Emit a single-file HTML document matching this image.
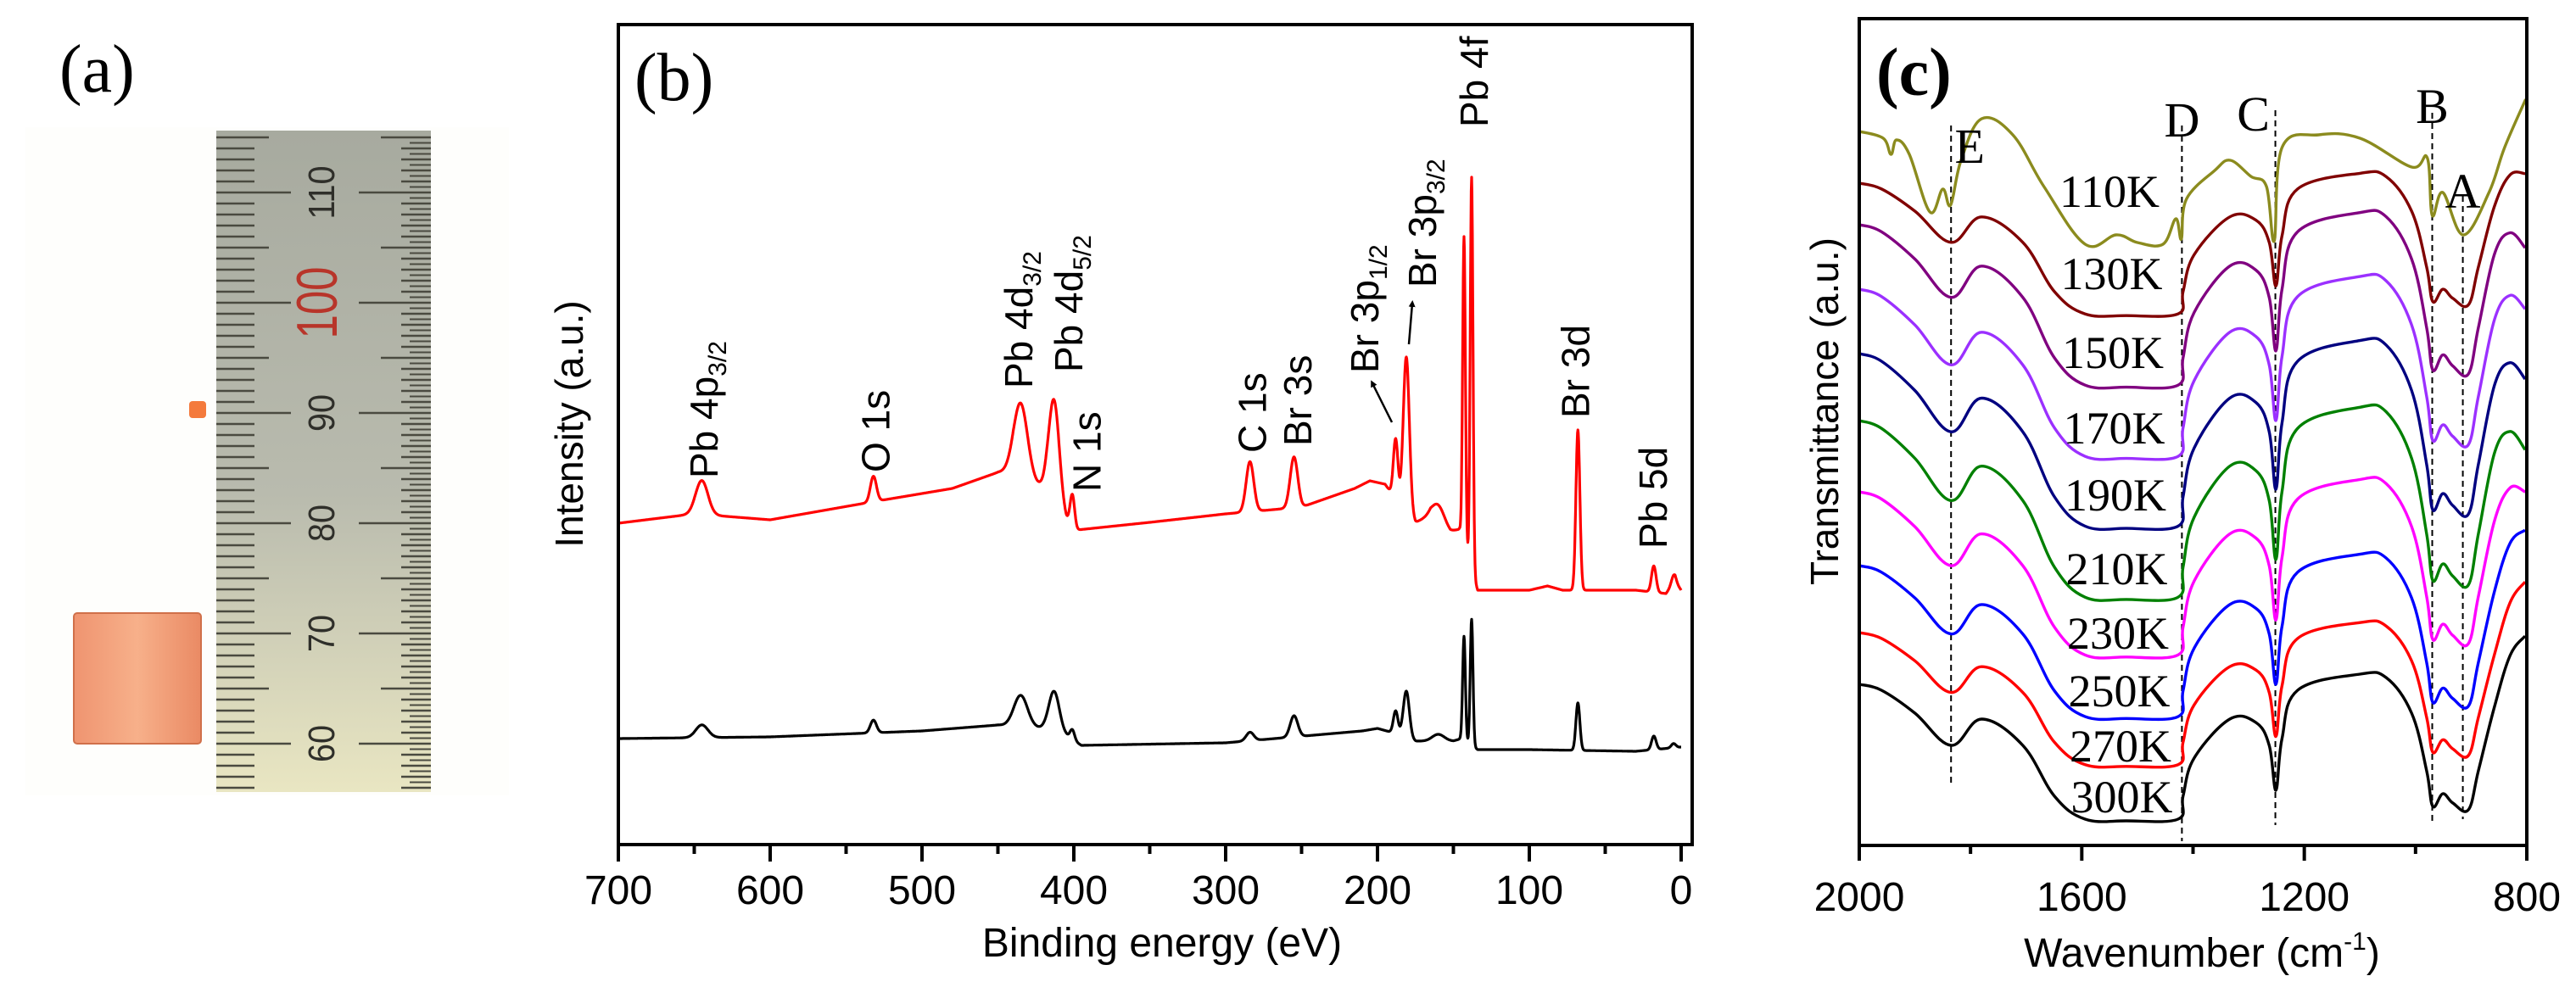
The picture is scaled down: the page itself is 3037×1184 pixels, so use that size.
<!DOCTYPE html>
<html><head><meta charset="utf-8"><style>
html,body{margin:0;padding:0;background:#fff;}
svg{display:block;}
</style></head><body>
<svg id="fig" xmlns="http://www.w3.org/2000/svg" width="3037" height="1184" viewBox="0 0 3037 1184">
<defs>
<linearGradient id="rulerGrad" x1="0" y1="0" x2="0" y2="1">
<stop offset="0" stop-color="#a7aa9f"/><stop offset="0.55" stop-color="#b9bbae"/><stop offset="1" stop-color="#e9e6c2"/>
</linearGradient>
<linearGradient id="cuGrad" x1="0" y1="0" x2="1" y2="0">
<stop offset="0" stop-color="#ef9470"/><stop offset="0.5" stop-color="#f7b08a"/><stop offset="1" stop-color="#ea8a64"/>
</linearGradient>
<marker id="arrowHead" markerWidth="8" markerHeight="8" refX="4" refY="4" orient="auto" markerUnits="userSpaceOnUse" viewBox="0 0 8 8">
<path d="M0,0 L8,4 L0,8 z" fill="#000"/>
</marker>
</defs>

<!-- Panel (a) -->
<g id="panelA">
<rect x="30" y="150" width="570" height="788" fill="#fefefc"/>
<text x="70" y="108" font-family="Liberation Serif, serif" font-size="80">(a)</text>
<rect x="255" y="154" width="253" height="780" fill="url(#rulerGrad)"/>
<g id="rulerTicks"></g>
<g id="rulerNums"></g>
<rect x="223" y="473" width="20" height="20" rx="4" fill="#f47a3c"/>
<rect x="87" y="723" width="150" height="154" rx="4" fill="url(#cuGrad)" stroke="#d0704a" stroke-width="2"/>
</g>

<!-- Panel (b) -->
<g id="panelB">
<text x="748" y="118" font-family="Liberation Serif, serif" font-size="80">(b)</text>
<g id="bSeries"></g>
<g id="bLabels" font-family="Liberation Sans, sans-serif" font-size="46"></g>
<line x1="1641" y1="498" x2="1618" y2="452" stroke="#000" stroke-width="2.5" marker-end="url(#arrowHead)"/>
<line x1="1661" y1="406" x2="1665" y2="358" stroke="#000" stroke-width="2.5" marker-end="url(#arrowHead)"/>
<rect x="729" y="29" width="1266" height="967" fill="none" stroke="#000" stroke-width="4"/>
<g id="bAxis" font-family="Liberation Sans, sans-serif" font-size="48" text-anchor="middle"></g>
<text x="1370" y="1128" font-family="Liberation Sans, sans-serif" font-size="48" text-anchor="middle">Binding energy (eV)</text>
<text transform="translate(687,500) rotate(-90)" font-family="Liberation Sans, sans-serif" font-size="46" text-anchor="middle">Intensity (a.u.)</text>
</g>

<!-- Panel (c) -->
<g id="panelC">
<text x="2212" y="112" font-family="Liberation Serif, serif" font-size="80" font-weight="bold">(c)</text>
<g id="cDashes" stroke="#000" stroke-width="2" stroke-dasharray="7,5"></g>
<g id="cSeries"></g>
<g id="cTemps" font-family="Liberation Serif, serif" font-size="54"></g>
<g id="cLetters" font-family="Liberation Serif, serif" font-size="58" text-anchor="middle"></g>
<rect x="2192" y="22" width="787" height="975" fill="none" stroke="#000" stroke-width="4"/>
<g id="cAxis" font-family="Liberation Sans, sans-serif" font-size="48" text-anchor="middle"></g>
<text x="2596" y="1140" font-family="Liberation Sans, sans-serif" font-size="48" text-anchor="middle">Wavenumber (cm<tspan font-size="30" dy="-20">-1</tspan><tspan dy="20">)</tspan></text>
<text transform="translate(2167,485) rotate(-90)" font-family="Liberation Sans, sans-serif" font-size="46" text-anchor="middle">Transmittance (a.u.)</text>
</g>
</svg>

<script>
// ===== Panel (b) data =====
const bTicks = [700, 600, 500, 400, 300, 200, 100, 0];
const bMinorTicks = [650, 550, 450, 350, 250, 150, 50];
const peakCenters = [645, 532, 435, 413, 401, 284, 255, 188, 181, 160, 143, 138, 68, 18, 5];
const peakWidths = [4, 2, 4.5, 3.5, 1.5, 2.5, 2.5, 1.5, 2, 4, 0.9, 0.9, 1.3, 1.5, 1.5];
const redHeights = [40, 30, 85, 120, 38, 59, 60, 71, 183, 20, 363, 463, 189, 31, 10];
const blackHeights = [15, 15, 37, 48, 12, 10, 25, 27, 55, 8, 123, 149, 56, 16, 5];
const redBaseE = [700, 650, 600, 530, 480, 450, 440, 425, 418, 405, 398, 350, 300, 250, 215, 205, 195, 185, 175, 165, 152, 146, 134, 100, 88, 78, 30, 10, 4, 0];
const redBaseV = [379, 390, 383, 405, 420, 439, 441, 425, 420, 380, 371, 380, 390, 398, 420, 429, 425, 400, 380, 388, 369, 372, 300, 300, 305, 300, 300, 296, 310, 300];
const blackBaseE = [700, 600, 500, 450, 420, 405, 395, 300, 210, 200, 190, 175, 150, 145, 134, 100, 30, 0];
const blackBaseV = [125, 127, 134, 141, 137, 128, 117, 120, 134, 137, 132, 122, 122, 125, 112, 112, 110, 115];
const bPeakLabels = ["Pb 4p|3/2", "O 1s", "Pb 4d|3/2", "Pb 4d|5/2", "N 1s", "C 1s", "Br 3s", "Br 3p|1/2", "Br 3p|3/2", "Pb 4f", "Br 3d", "Pb 5d"];
const bLabelEnergy = [644, 531, 437, 404, 392, 283, 253, 209, 171, 137, 70, 19];
const bLabelHeight = [432, 439, 538, 557, 416, 462, 470, 556, 657, 846, 503, 349];

// ===== Panel (c) data =====
const wn = [2000, 1960, 1900, 1835, 1780, 1706, 1649, 1594, 1520, 1427, 1418, 1398, 1334, 1287, 1263, 1251, 1240, 1212, 1100, 1053, 1007, 980, 969, 951, 933, 905, 887, 858, 830, 803];
const t300 = [190, 183, 156, 118, 149, 118, 58, 31, 29, 31, 58, 103, 149, 145, 118, 65, 126, 183, 202, 198, 156, 88, 46, 61, 50, 42, 88, 164, 224, 247];
const wn110 = [2000, 1957, 1943, 1933, 1910, 1873, 1850, 1836, 1817, 1780, 1724, 1668, 1594, 1538, 1500, 1454, 1431, 1421, 1412, 1361, 1333, 1296, 1268, 1254, 1240, 1174, 1100, 1007, 979, 970, 951, 914, 868, 840, 802];
const t110 = [842, 834, 815, 832, 815, 747, 774, 755, 808, 857, 838, 777, 709, 720, 711, 709, 739, 715, 762, 796, 808, 789, 777, 713, 823, 838, 834, 800, 811, 743, 770, 720, 770, 823, 880];
const temps = ["130K", "150K", "170K", "190K", "210K", "230K", "250K", "270K"];
const offsets = [781, 732, 656, 580, 501, 417, 330, 251];
const depths = [0.97, 1.19, 1.24, 1.28, 1.31, 1.21, 1.12, 0.98];
const tilts = [-44, -95, -94, -103, -109, -69, -22, 4];
const cTicks = [2000, 1600, 1200, 800];
const cMinorTicks = [1800, 1400, 1000];
const tempLabelsAll = ["110K", "130K", "150K", "170K", "190K", "210K", "230K", "250K", "270K", "300K"];
const tempLabelV = [772, 675, 582, 493, 414, 327, 251, 183, 118, 58];
const bandLetters = ["E", "D", "C", "B", "A"];
const bandWn = [1835, 1420, 1252, 970, 915];
const bandLetterV = [825, 856, 863, 872, 772];
const bandLineTopV = [849, 849, 867, 864, 766];
const bandLineBotV = [69, 5, 24, 24, 31];

const NS = "http://www.w3.org/2000/svg";
function mk(tag, parent) { const e = document.createElementNS(NS, tag); parent.appendChild(e); return e; }

// ---- Panel (a) ruler decoration ----
(function () {
  const g = document.getElementById('rulerTicks');
  for (let m = 56; m <= 116; m++) {
    const y = 877 - (m - 60) * 13;
    if (y < 156 || y > 932) continue;
    const lenL = m % 10 === 0 ? 88 : (m % 5 === 0 ? 62 : 45);
    const l = mk('line', g);
    
    
    l.setAttribute('x1', 255); l.setAttribute('x2', 255 + lenL);
    l.setAttribute('y1', y); l.setAttribute('y2', y);
    l.setAttribute('stroke', '#4a4a40'); l.setAttribute('stroke-width', '2.5');
    const lenR = m % 10 === 0 ? 85 : (m % 5 === 0 ? 59 : 35);
    const r = mk('line', g);
    
    
    r.setAttribute('x1', 508 - lenR); r.setAttribute('x2', 508);
    r.setAttribute('y1', y); r.setAttribute('y2', y);
    r.setAttribute('stroke', '#4a4a40'); r.setAttribute('stroke-width', '2.5');
    const yh = y - 6.5;
    if (yh > 156) {
      const h = mk('line', g);
      
      
      h.setAttribute('x1', 483); h.setAttribute('x2', 508);
      h.setAttribute('y1', yh); h.setAttribute('y2', yh);
      h.setAttribute('stroke', '#4a4a40'); h.setAttribute('stroke-width', '2');
    }
  }
  const ng = document.getElementById('rulerNums');
  [60, 70, 80, 90, 100, 110].forEach(n => {
    const y = 877 - (n - 60) * 13;
    const t = mk('text', ng);
    
    
    const red = n === 100;
    t.setAttribute('transform', `translate(${red ? 397 : 394},${y}) rotate(-90) scale(${red ? 0.75 : 0.9},1)`);
    t.setAttribute('text-anchor', 'middle');
    t.setAttribute('font-family', 'Liberation Sans, sans-serif');
    t.setAttribute('font-size', red ? 68 : 44);
    t.setAttribute('fill', red ? '#b8352a' : '#2f2f2a');
    t.textContent = String(n);
  });
})();

// ---- Panel (b) ----
const bLeft = 729, bTop = 29, bBottom = 996;
function xB(e) { return bLeft + (700 - e) * 1.79; }
function yB(v) { return bBottom - v; }
function interp(xs, ys, x) {
  for (let i = 0; i < xs.length - 1; i++) {
    const a = xs[i], b = xs[i + 1];
    if ((x <= a && x >= b) || (x >= a && x <= b)) {
      const t = (x - a) / (b - a); return ys[i] + t * (ys[i + 1] - ys[i]);
    }
  }
  return ys[ys.length - 1];
}
function spectrum(baseE, baseV, heights, e) {
  let v = interp(baseE, baseV, e);
  for (let i = 0; i < peakCenters.length; i++) {
    const d = (e - peakCenters[i]) / peakWidths[i];
    v += heights[i] * Math.exp(-0.5 * d * d);
  }
  return v;
}
(function () {
  const g = document.getElementById('bSeries');
  [["black", blackBaseE, blackBaseV, blackHeights, "#000", "xps-black-spectrum"],
   ["red", redBaseE, redBaseV, redHeights, "#ff0000", "xps-red-spectrum"]].forEach(s => {
    let d = "";
    for (let e = 700; e >= 0; e -= 0.25) {
      const v = spectrum(s[1], s[2], s[3], e);
      d += (d ? "L" : "M") + xB(e).toFixed(1) + "," + yB(v).toFixed(1);
    }
    const p = mk('path', g);
    
    
    p.setAttribute('d', d);
    p.setAttribute('fill', 'none');
    p.setAttribute('stroke', s[4]);
    p.setAttribute('stroke-width', '3.2');
    p.setAttribute('stroke-linejoin', 'round');
  });
  const lg = document.getElementById('bLabels');
  bPeakLabels.forEach((lab, i) => {
    const parts = lab.split('|');
    const t = mk('text', lg);
    
    
    t.setAttribute('transform', `translate(${(xB(bLabelEnergy[i]) + 17).toFixed(1)},${yB(bLabelHeight[i]).toFixed(1)}) rotate(-90)`);
    t.appendChild(document.createTextNode(parts[0]));
    if (parts[1]) {
      const s = document.createElementNS(NS, 'tspan');
      s.setAttribute('font-size', '30');
      s.setAttribute('dy', '10');
      s.textContent = parts[1];
      t.appendChild(s);
    }
  });
  const ag = document.getElementById('bAxis');
  bTicks.forEach(v => {
    const l = mk('line', ag);
    
    
    l.setAttribute('x1', xB(v)); l.setAttribute('x2', xB(v));
    l.setAttribute('y1', bBottom); l.setAttribute('y2', bBottom + 20);
    l.setAttribute('stroke', '#000'); l.setAttribute('stroke-width', '4');
    const t = mk('text', ag);
    
    
    t.setAttribute('x', xB(v)); t.setAttribute('y', 1066);
    t.textContent = String(v);
  });
  bMinorTicks.forEach(v => {
    const l = mk('line', ag);
    
    
    l.setAttribute('x1', xB(v)); l.setAttribute('x2', xB(v));
    l.setAttribute('y1', bBottom); l.setAttribute('y2', bBottom + 11);
    l.setAttribute('stroke', '#000'); l.setAttribute('stroke-width', '4');
  });
})();

// ---- Panel (c) ----
const cLeft = 2192, cBottom = 997;
function xC(w) { return cLeft + (2000 - w) * (787 / 1200); }
function yC(v) { return cBottom - v; }
function ramp(w) { return w >= 860 ? 0 : Math.min(1, (860 - w) / 57); }
const cColors = ["#800000", "#800080", "#9b30ff", "#000080", "#008000", "#ff00ff", "#0000ff", "#ff0000"];
function smoothPath(pts) {
  let d = "M" + pts[0][0].toFixed(1) + "," + pts[0][1].toFixed(1);
  for (let i = 0; i < pts.length - 1; i++) {
    const p0 = pts[Math.max(0, i - 1)], p1 = pts[i], p2 = pts[i + 1], p3 = pts[Math.min(pts.length - 1, i + 2)];
    const k = 0.18;
    const c1x = p1[0] + (p2[0] - p0[0]) * k, c1y = p1[1] + (p2[1] - p0[1]) * k;
    const c2x = p2[0] - (p3[0] - p1[0]) * k, c2y = p2[1] - (p3[1] - p1[1]) * k;
    d += "C" + c1x.toFixed(1) + "," + c1y.toFixed(1) + " " + c2x.toFixed(1) + "," + c2y.toFixed(1) + " " + p2[0].toFixed(1) + "," + p2[1].toFixed(1);
  }
  return d;
}
(function () {
  const g = document.getElementById('cSeries');
  function draw(xs, vs, color, name) {
    const pts = xs.map((w, i) => [xC(w), yC(vs[i])]);
    const p = mk('path', g);
    
    
    p.setAttribute('d', smoothPath(pts));
    p.setAttribute('fill', 'none');
    p.setAttribute('stroke', color);
    p.setAttribute('stroke-width', '3.4');
    p.setAttribute('stroke-linejoin', 'round');
  }
  draw(wn, t300, "#000", "ftir-300k");
  temps.forEach((tk, k) => {
    const vs = wn.map((w, i) => offsets[k] + depths[k] * (t300[i] - t300[0]) + tilts[k] * ramp(w));
    draw(wn, vs, cColors[k], "ftir-" + tk.toLowerCase());
  });
  draw(wn110, t110, "#8b8b1e", "ftir-110k");

  const dg = document.getElementById('cDashes');
  bandWn.forEach((w, i) => {
    const l = mk('line', dg);
    
    
    l.setAttribute('x1', xC(w)); l.setAttribute('x2', xC(w));
    l.setAttribute('y1', yC(bandLineTopV[i])); l.setAttribute('y2', yC(bandLineBotV[i]));
  });
  const lg = document.getElementById('cLetters');
  bandLetters.forEach((b, i) => {
    const t = mk('text', lg);
    
    
    const dx = b === "E" ? 22 : (b === "C" ? -26 : 0);
    t.setAttribute('x', xC(bandWn[i]) + dx);
    t.setAttribute('y', yC(bandLetterV[i]) + 20);
    t.textContent = b;
  });
  const tg = document.getElementById('cTemps');
  tempLabelsAll.forEach((s, i) => {
    const t = mk('text', tg);
    
    
    t.setAttribute('x', 2428 + i * 1.5);
    t.setAttribute('y', yC(tempLabelV[i]) + 19);
    t.textContent = s;
  });
  const ag = document.getElementById('cAxis');
  cTicks.forEach(v => {
    const l = mk('line', ag);
    
    
    l.setAttribute('x1', xC(v)); l.setAttribute('x2', xC(v));
    l.setAttribute('y1', cBottom); l.setAttribute('y2', cBottom + 18);
    l.setAttribute('stroke', '#000'); l.setAttribute('stroke-width', '4');
    const t = mk('text', ag);
    
    
    t.setAttribute('x', xC(v)); t.setAttribute('y', 1074);
    t.textContent = String(v);
  });
  cMinorTicks.forEach(v => {
    const l = mk('line', ag);
    
    
    l.setAttribute('x1', xC(v)); l.setAttribute('x2', xC(v));
    l.setAttribute('y1', cBottom); l.setAttribute('y2', cBottom + 10);
    l.setAttribute('stroke', '#000'); l.setAttribute('stroke-width', '4');
  });
})();
</script>
</body></html>
